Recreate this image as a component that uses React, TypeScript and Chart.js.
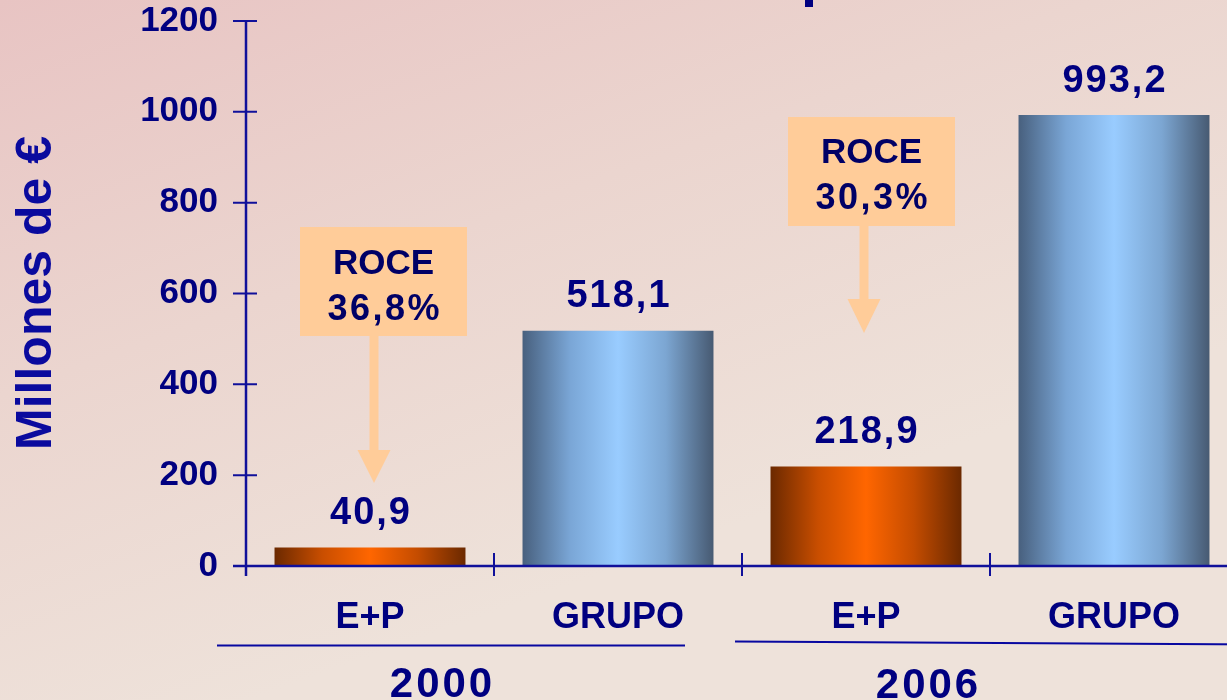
import { useEffect, useRef } from "react";
import { Chart, registerables } from "chart.js";

Chart.register(...registerables);

// ---- data ----
const categories = ["E+P", "GRUPO", "E+P", "GRUPO"];
const values = [40.9, 518.1, 218.9, 993.2];
const valueLabels = ["40,9", "518,1", "218,9", "993,2"];
const groupLabels = ["2000", "2006"];
const roceTitles = ["ROCE", "ROCE"];
const roceValues = ["36,8%", "30,3%"];
const yMin = 0;
const yMax = 1200;
const yStep = 200;

const NAVY = "#000080";
const AXIS = "#10109A";
const FONT = '"Liberation Sans", Arial, Helvetica, sans-serif';
const BOX = "#FFCC99";

function drawText(
  ctx: CanvasRenderingContext2D,
  text: string,
  cx: number,
  cy: number,
  size: number,
  spacing: number,
  color: string
) {
  ctx.save();
  ctx.font = `bold ${size}px ${FONT}`;
  (ctx as any).letterSpacing = "0px";
  const natural = ctx.measureText(text).width;
  const w = natural + spacing * (text.length - 1);
  (ctx as any).letterSpacing = spacing + "px";
  ctx.fillStyle = color;
  ctx.textAlign = "left";
  ctx.textBaseline = "alphabetic";
  ctx.fillText(text, cx - w / 2, cy + size * 0.358);
  ctx.restore();
}

function barGradient(ctx: CanvasRenderingContext2D, x0: number, x1: number, idx: number) {
  const g = ctx.createLinearGradient(x0, 0, x1, 0);
  if (categories[idx] === "E+P") {
    g.addColorStop(0, "#6B2900");
    g.addColorStop(0.25, "#C94E00");
    g.addColorStop(0.5, "#FF6600");
    g.addColorStop(0.75, "#C44C00");
    g.addColorStop(1, "#6B2900");
  } else {
    g.addColorStop(0, "#48607E");
    g.addColorStop(0.25, "#7AA6D6");
    g.addColorStop(0.5, "#99CCFF");
    g.addColorStop(0.75, "#7CA6D2");
    g.addColorStop(1, "#475A72");
  }
  return g;
}

const decoPlugin = {
  id: "deco",
  beforeDraw(chart: any) {
    const { ctx, width, height } = chart;
    ctx.save();
    const g = ctx.createLinearGradient(0, 0, width * 0.2, height);
    g.addColorStop(0, "#E8C4C3");
    g.addColorStop(0.5, "#EBD5CF");
    g.addColorStop(1, "#EEE2DA");
    ctx.fillStyle = g;
    ctx.fillRect(0, 0, width, height);
    // cropped fragment of the slide title
    ctx.fillStyle = NAVY;
    ctx.fillRect(805, 0, 8, 7);
    ctx.restore();
  },
  afterDraw(chart: any) {
    const { ctx, chartArea } = chart;
    const xs = chart.scales.x;
    const ys = chart.scales.y;
    const left = chartArea.left;
    const bottom = chartArea.bottom;
    const top = chartArea.top;
    const catW = (chartArea.right - chartArea.left) / categories.length;

    ctx.save();
    ctx.strokeStyle = AXIS;
    ctx.lineWidth = 2.5;
    ctx.beginPath();
    ctx.moveTo(left, top);
    ctx.lineTo(left, bottom + 10);
    ctx.moveTo(left - 13, bottom);
    ctx.lineTo(chart.width, bottom);
    ctx.stroke();

    ctx.lineWidth = 2;
    ctx.beginPath();
    for (let v = yMin; v <= yMax; v += yStep) {
      const y = ys.getPixelForValue(v);
      ctx.moveTo(left - 13, y);
      ctx.lineTo(left + 11, y);
    }
    for (let i = 1; i <= categories.length; i++) {
      const x = left + catW * i;
      ctx.moveTo(x, bottom - 13);
      ctx.lineTo(x, bottom + 10);
    }
    ctx.stroke();

    const p0 = xs.getPixelForValue(0);
    const p1 = xs.getPixelForValue(1);
    const p2 = xs.getPixelForValue(2);
    const p3 = xs.getPixelForValue(3);
    ctx.strokeStyle = "#0808A0";
    ctx.lineWidth = 2;
    ctx.beginPath();
    ctx.moveTo(p0 - 153, 645.5);
    ctx.lineTo(p1 + 67, 645.5);
    ctx.moveTo(p2 - 131, 641.5);
    ctx.lineTo(chart.width, 644.5);
    ctx.stroke();
    ctx.restore();

    drawText(ctx, groupLabels[0], (p0 + p1) / 2 - 53, 682, 42, 3, NAVY);
    drawText(ctx, groupLabels[1], (p2 + p3) / 2 - 63, 683, 42, 3, NAVY);

    const meta = chart.getDatasetMeta(0);
    meta.data.forEach((el: any, i: number) => {
      drawText(ctx, valueLabels[i], el.x, el.y - 37, 38, 2, NAVY);
    });

    const boxes = [
      { ax: p0 + 4, l: 74, r: 93, top: 227, bot: 336, head: 450, tip: 483, t1: 261.7, t2: 306.7 },
      { ax: p2 - 2, l: 76, r: 91, top: 117, bot: 226, head: 299, tip: 333, t1: 150.8, t2: 195.8 },
    ];
    boxes.forEach((b, i) => {
      ctx.save();
      ctx.fillStyle = BOX;
      ctx.fillRect(b.ax - b.l, b.top, b.l + b.r, b.bot - b.top);
      ctx.fillRect(b.ax - 4.5, b.bot, 9, b.head - b.bot + 1);
      ctx.beginPath();
      ctx.moveTo(b.ax - 16.5, b.head);
      ctx.lineTo(b.ax + 16.5, b.head);
      ctx.lineTo(b.ax, b.tip);
      ctx.closePath();
      ctx.fill();
      ctx.restore();
      const cx = b.ax + (b.r - b.l) / 2;
      drawText(ctx, roceTitles[i], cx, b.t1, 35, 0, "#000066");
      drawText(ctx, roceValues[i], cx, b.t2, 36, 2.5, "#000066");
    });

    ctx.save();
    ctx.translate(33, 293);
    ctx.rotate(-Math.PI / 2);
    ctx.font = `bold 50px ${FONT}`;
    ctx.fillStyle = "#0A0A9E";
    ctx.textAlign = "center";
    ctx.textBaseline = "alphabetic";
    ctx.fillText("Millones de €", 0, 50 * 0.358);
    ctx.restore();
  },
};

export default function App() {
  const ref = useRef<HTMLCanvasElement | null>(null);

  useEffect(() => {
    if (!ref.current) return;
    const chart = new Chart(ref.current, {
      type: "bar",
      data: {
        labels: categories,
        datasets: [
          {
            data: values,
            backgroundColor: (c: any) => {
              const ch = c.chart;
              const xs = ch.scales?.x;
              const fallback = categories[c.dataIndex] === "GRUPO" ? "#80B0E0" : "#E05A00";
              if (!xs || c.dataIndex === undefined) return fallback;
              const cx = xs.getPixelForValue(c.dataIndex);
              const half = ((xs.width / categories.length) * 0.77) / 2;
              if (!isFinite(cx) || !isFinite(half) || half <= 0) return fallback;
              return barGradient(ch.ctx, cx - half, cx + half, c.dataIndex);
            },
            borderWidth: 0,
            barPercentage: 0.77,
            categoryPercentage: 1,
          },
        ],
      },
      options: {
        responsive: false,
        animation: false,
        events: [],
        layout: { padding: { left: 0, right: 24, top: 21, bottom: 0 } },
        plugins: {
          legend: { display: false },
          tooltip: { enabled: false },
          title: { display: false },
        },
        scales: {
          x: {
            grid: { display: false, drawTicks: false },
            border: { display: false },
            ticks: {
              color: NAVY,
              padding: 34,
              font: { family: FONT, size: 36, weight: "bold", lineHeight: 1 },
              maxRotation: 0,
              autoSkip: false,
            },
            afterFit: (s: any) => {
              s.height = 134;
              s.paddingLeft = 0;
              s.paddingRight = 0;
            },
          },
          y: {
            min: yMin,
            max: yMax,
            grid: { display: false, drawTicks: false },
            border: { display: false },
            ticks: {
              stepSize: yStep,
              color: NAVY,
              padding: 28,
              callback: (v: any) => String(v),
              font: { family: FONT, size: 35, weight: "bold", lineHeight: 1.2 },
            },
            afterFit: (s: any) => {
              s.width = 246;
              s.paddingTop = 0;
              s.paddingBottom = 0;
            },
          },
        },
      },
      plugins: [decoPlugin],
    });
    chart.update();
    return () => chart.destroy();
  }, []);

  return (
    <div
      style={{
        position: "fixed",
        left: 0,
        top: 0,
        width: 1227,
        height: 700,
        overflow: "hidden",
      }}
    >
      <canvas ref={ref} width={1262} height={700} style={{ display: "block" }} />
    </div>
  );
}
